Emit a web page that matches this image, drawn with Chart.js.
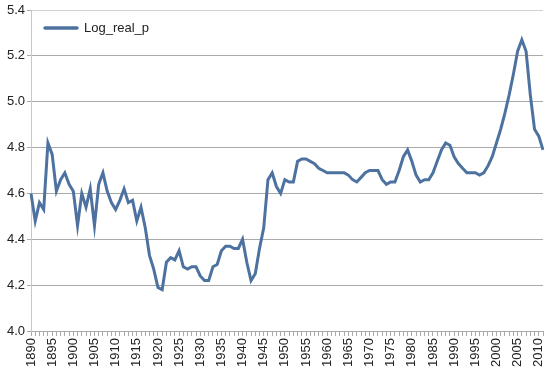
<!DOCTYPE html>
<html>
<head>
<meta charset="utf-8">
<script src="https://cdn.jsdelivr.net/npm/chart.js@4/dist/chart.umd.min.js"></script>
<style>
html,body{margin:0;padding:0;background:#fff;}
#wrap{width:549px;height:379px;}
</style>
</head>
<body>
<div id="wrap"><canvas id="c" width="549" height="379"></canvas></div>
<script>
const years = [];
for (let y = 1890; y <= 2011; y++) years.push(String(y));
const seriesName = "Log_real_p";
const logRealP = [
4.60,4.48,4.56,4.53,4.82,4.77,4.61,4.66,4.69,4.64,
4.61,4.46,4.60,4.54,4.62,4.46,4.64,4.69,4.61,4.56,
4.53,4.57,4.62,4.56,4.57,4.48,4.54,4.45,4.33,4.27,
4.19,4.18,4.30,4.32,4.31,4.35,4.28,4.27,4.28,4.28,
4.24,4.22,4.22,4.28,4.29,4.35,4.37,4.37,4.36,4.36,
4.40,4.30,4.22,4.25,4.36,4.45,4.66,4.69,4.63,4.60,
4.66,4.65,4.65,4.74,4.75,4.75,4.74,4.73,4.71,4.70,
4.69,4.69,4.69,4.69,4.69,4.68,4.66,4.65,4.67,4.69,
4.70,4.70,4.70,4.66,4.64,4.65,4.65,4.70,4.76,4.79,
4.74,4.68,4.65,4.66,4.66,4.69,4.74,4.79,4.82,4.81,
4.76,4.73,4.71,4.69,4.69,4.69,4.68,4.69,4.72,4.76,
4.82,4.88,4.95,5.03,5.12,5.22,5.27,5.22,5.03,4.88,
4.85,4.79
];
const yTicks = [4.0,4.2,4.4,4.6,4.8,5.0,5.2,5.4];

const FONT = {family: "'Liberation Sans', Arial, sans-serif", size: 13};
const LINE = '#4d72a0';

const legendPlugin = {
  id: 'inlineLegend',
  afterDraw(chart) {
    const ctx = chart.ctx;
    const ds = chart.data.datasets[0];
    ctx.save();
    ctx.strokeStyle = LINE;
    ctx.lineWidth = 3.5;
    ctx.lineCap = 'round';
    ctx.beginPath();
    ctx.moveTo(45, 28);
    ctx.lineTo(77, 28);
    ctx.stroke();
    ctx.fillStyle = '#222';
    ctx.font = "13px 'Liberation Sans', Arial, sans-serif";
    ctx.textBaseline = 'middle';
    ctx.fillText(ds.label, 84, 28);
    ctx.restore();
  }
};

new Chart(document.getElementById('c'), {
  type: 'line',
  data: {
    labels: years,
    datasets: [{
      label: seriesName,
      data: logRealP,
      borderColor: LINE,
      borderWidth: 3,
      pointRadius: 0,
      tension: 0,
      fill: false
    }]
  },
  options: {
    responsive: false,
    animation: false,
    devicePixelRatio: 1,
    layout: {padding: {top: 10, right: 6, left: 0, bottom: 0}},
    plugins: {legend: {display: false}, tooltip: {enabled: false}},
    scales: {
      x: {
        type: 'category',
        offset: false,
        grid: {drawOnChartArea: false, tickLength: 5, color: '#aaaaaa', tickColor: '#aaaaaa'},
        border: {color: '#aaaaaa', width: 1},
        ticks: {
          autoSkip: false,
          maxRotation: 90,
          minRotation: 90,
          padding: 2,
          color: '#222',
          font: FONT,
          callback: function(v, i) { const l = this.getLabelForValue(v); return (Number(l) % 5 === 0) ? l : ''; }
        },
        afterFit(s) { s.height = 48; s.paddingLeft = 0; s.paddingRight = 0; }
      },
      y: {
        min: 4.0,
        max: 5.4,
        afterBuildTicks(s) { s.ticks = yTicks.map(v => ({value: v})); },
        grid: {
          color: (c) => (c.tick && c.tick.value >= 5.39) ? '#d0d0d0' : '#aaaaaa',
          tickLength: 4,
          tickColor: '#aaaaaa'
        },
        border: {color: '#c8c8c8', width: 1},
        ticks: {
          color: '#222',
          font: FONT,
          padding: 2,
          callback: (v) => Number(v).toFixed(1)
        },
        afterFit(s) { s.width = 31; }
      }
    }
  },
  plugins: [legendPlugin]
});
</script>
</body>
</html>
